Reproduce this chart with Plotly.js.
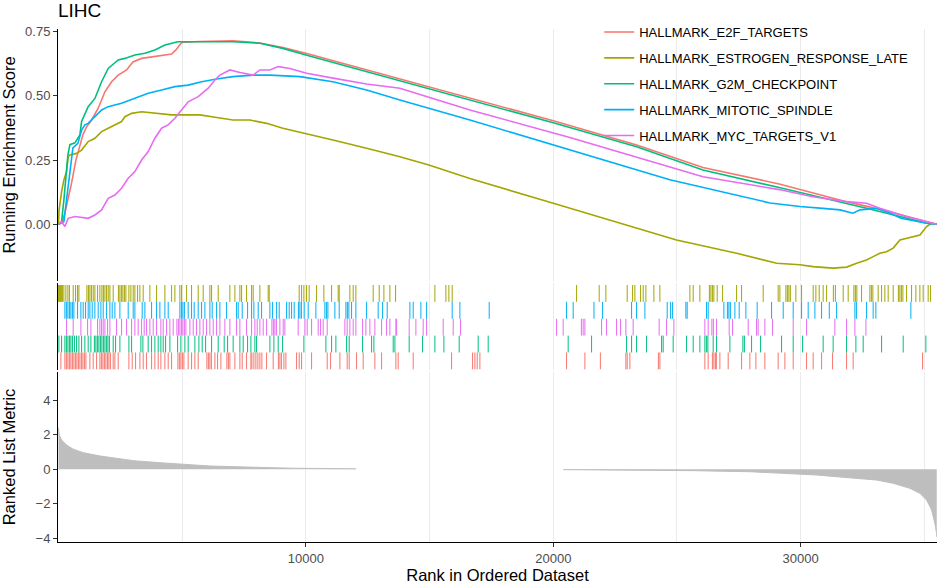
<!DOCTYPE html>
<html>
<head>
<meta charset="utf-8">
<script src="https://cdn.plot.ly/plotly-2.35.2.min.js"></script>
<style>html,body{margin:0;padding:0;background:#fff;}#chart{width:941px;height:584px;}</style>
</head>
<body>
<div id="chart"></div>
<script>
// ---------------- data ----------------
const setNames = ["HALLMARK_E2F_TARGETS","HALLMARK_ESTROGEN_RESPONSE_LATE","HALLMARK_G2M_CHECKPOINT","HALLMARK_MITOTIC_SPINDLE","HALLMARK_MYC_TARGETS_V1"];
const setColors = ["#F8766D","#A3A500","#00BF7D","#00B0F6","#E76BF3"];

// running enrichment score curves (rank, score)
const e2fX = [1,125,259,380,530,703,865,986,1136,1338,1605,1876,2146,2413,2753,3007,3359,3896,4572,4746,4976,5684,7050,8141,9070,10000,16630,20000,23370,26050,29130,31850,33200,34280,35500];
const e2fY = [0,0.005,0.044,0.095,0.161,0.25,0.302,0.348,0.38,0.406,0.452,0.516,0.555,0.581,0.601,0.632,0.646,0.653,0.663,0.679,0.708,0.712,0.715,0.706,0.688,0.666,0.491,0.403,0.309,0.221,0.157,0.088,0.058,0.03,0];

const estX = [1,20,125,218,327,392,461,732,934,1200,1471,1742,2009,2280,2550,2684,2955,3359,3896,4572,5242,5716,6390,7050,7737,8412,9070,10000,11091,12453,13800,14970,16630,20000,24980,27410,29030,29970,30500,31310,31860,32260,32660,32930,33200,33470,33740,34010,34550,34820,35090,35290,35500];
const estY = [0,0.052,0.127,0.173,0.205,0.263,0.27,0.276,0.289,0.322,0.335,0.361,0.374,0.387,0.4,0.419,0.432,0.438,0.432,0.426,0.426,0.426,0.416,0.406,0.406,0.393,0.374,0.354,0.328,0.296,0.263,0.231,0.178,0.082,-0.061,-0.113,-0.152,-0.158,-0.165,-0.171,-0.167,-0.152,-0.139,-0.126,-0.113,-0.107,-0.093,-0.061,-0.048,-0.042,-0.009,0.004,0];

const g2mX = [1,125,218,299,380,461,663,865,934,1200,1471,1742,2009,2413,2684,3088,3492,3896,4300,4826,5684,7050,8141,9070,10000,16630,20000,23370,26050,29130,31850,32660,34010,35090,35500];
const g2mY = [0,0.01,0.095,0.19,0.27,0.31,0.317,0.348,0.40,0.458,0.49,0.555,0.607,0.64,0.646,0.659,0.666,0.679,0.698,0.711,0.711,0.711,0.705,0.685,0.659,0.485,0.395,0.302,0.211,0.143,0.082,0.062,0.03,0.004,0];

const mitX = [1,218,299,461,582,784,934,1067,1200,1471,1742,2009,2550,3088,3626,4167,4705,5242,5784,6390,7050,7858,8545,9757,11091,12453,13800,16630,20670,24710,28760,29970,30900,31590,32110,32400,33070,33610,34050,35090,35500];
const mitY = [0,0.01,0.075,0.204,0.297,0.315,0.367,0.387,0.393,0.419,0.445,0.458,0.471,0.491,0.51,0.523,0.536,0.542,0.555,0.566,0.575,0.581,0.581,0.575,0.555,0.523,0.484,0.406,0.289,0.173,0.083,0.069,0.062,0.056,0.043,0.056,0.062,0.043,0.023,0.004,0];

const mycX = [1,125,259,392,663,934,1200,1471,1742,2009,2280,2550,2817,3088,3359,3626,3896,4167,4434,4705,4976,5242,5647,6051,6322,6524,6928,7332,7870,8141,8545,8880,9353,10030,11100,12453,13800,16630,20670,26050,29130,30490,31850,32660,33200,34280,35340,35500];
const mycY = [0,0.01,-0.009,0.023,0.03,0.026,0.023,0.036,0.056,0.101,0.114,0.14,0.179,0.205,0.25,0.283,0.335,0.374,0.387,0.413,0.445,0.477,0.497,0.53,0.562,0.581,0.601,0.591,0.581,0.601,0.601,0.614,0.607,0.588,0.569,0.546,0.53,0.445,0.338,0.185,0.135,0.107,0.088,0.082,0.062,0.03,0.004,0];

// hit positions (ranks) per gene set
const e2fHits = [97,259,319,380,441,501,562,622,683,744,804,865,926,986,1047,1108,1269,1403,1540,1673,1734,1795,1855,1916,1977,2037,2098,2211,2280,2413,2846,2979,3116,3290,3424,3561,3763,3896,4030,4139,4301,4434,4572,4826,4887,4947,5008,5069,5242,5380,5513,5647,5998,6059,6120,6180,6322,6431,6564,6807,6867,6928,7130,7332,7425,7603,7777,7817,7898,7979,8060,8141,8221,8412,8678,8888,8949,9010,9111,9192,9624,9729,9826,10230,10861,10998,11374,11669,11750,12049,12316,12789,13060,13638,13731,14337,15889,16738,16831,16924,17033,20537,21277,21903,22934,22987,23096,24248,24309,26127,26261,26431,26491,26552,26592,26734,27070,27611,27947,28189,28552,29090,29361,29697,30238,30505,30845,31289,31855,32122,34927];
const estHits = [5,36,77,117,158,218,299,380,441,594,691,772,825,1148,1209,1269,1330,1403,1471,1580,1673,1754,1815,1876,1944,2009,2078,2211,2421,2482,2542,2603,2664,2724,2846,2926,3019,3088,3197,3290,3424,3694,3965,4301,4572,4705,4907,4976,5178,5380,5647,5849,6120,6188,6455,6928,7130,7332,7401,7603,7805,7870,8141,8476,8517,9729,9826,9919,10028,10133,10432,10727,11039,11305,11346,11778,11912,12021,12720,12963,13153,13395,13626,15214,15659,15780,15913,20942,21855,22126,22987,23205,23298,23529,23634,23743,24066,24309,25521,25655,25925,26309,26370,26431,26491,26625,26843,27409,27611,28484,29090,29159,29402,29462,29523,29583,29806,30036,30505,30614,30748,30909,31047,31321,31402,31718,31920,32150,32211,32271,32461,32797,32857,32918,33132,33270,33403,33536,33739,33949,34009,34070,34131,34280,34482,34656,34818,34951,35153,35250];
const g2mHits = [16,125,259,319,380,441,501,562,643,732,825,934,1067,1200,1310,1451,1512,1572,1633,1694,1754,1815,1876,1936,1997,2057,2211,2308,2482,2846,2955,3331,3411,3626,3763,3896,4030,4139,4232,4329,4503,4814,4947,5109,5242,5513,5675,5808,5946,6188,6455,6698,6835,7061,7332,7466,7643,7777,7938,8007,8545,8706,8880,9058,9919,10808,11039,11212,11645,11750,12292,12656,12748,13529,13598,14175,14717,15214,15578,16196,16964,17369,20602,21548,22962,23165,23367,23771,24377,24442,24846,25388,25655,25925,26127,26188,26248,26463,26600,27138,27664,27724,28015,28379,29228,29697,30077,30909,31313,31855,32231,32526,33270,34143,35060];
const mitHits = [259,319,380,441,501,562,622,772,905,998,1095,1200,1269,1362,1471,1605,1714,1807,1944,2078,2171,2280,2482,2817,3019,3088,3383,3492,3763,3965,4098,4301,4434,4907,4968,5028,5089,5242,5380,5485,5647,5784,5918,6120,6213,6390,6524,6795,7199,7264,7425,7643,7805,7898,8072,8209,8545,8654,8816,8921,9220,9325,9422,9527,9697,9757,9818,9931,10093,10404,10768,10829,10889,11172,11346,11617,11677,11738,11847,12021,12453,12922,13100,13286,14204,14337,14648,14879,15913,16225,17409,20537,20804,21645,21993,23165,23367,23703,24604,24742,24823,25359,25412,26196,26261,26896,27037,27098,27158,27340,27514,27785,28241,28824,29293,29697,30036,30303,30574,30845,31156,31452,32191,32252,32664,32930,33039,34454];
const mycHits = [327,594,905,1176,1310,1580,1673,1742,1807,1876,1985,2078,2348,2550,2753,2955,3088,3221,3359,3464,3561,3694,3828,3965,4139,4232,4369,4503,4636,4786,4846,4907,4968,5028,5089,5150,5311,5445,5582,5715,5849,5986,6120,6253,6390,6524,6726,6928,7199,7332,7603,7805,7938,8032,8141,8274,8412,8626,8686,8747,8808,8949,9083,9151,9689,9960,10053,10230,10497,10594,10699,10861,11576,11669,11778,11912,12021,12292,12425,12587,12789,13060,13262,13395,13638,13666,14175,14446,14741,14879,15550,15954,16253,20133,20400,21135,21208,21277,21952,22154,22558,22720,22934,23229,24280,24579,24874,26127,26261,26410,26471,26600,27110,27247,27878,28217,28282,28552,28864,29697,30238,31382,31855,32191,32636];

// ranked list metric (rank, value)
const metricPosX = [1,28,125,327,594,998,1673,2348,3019,4098,4907,6120,7603,9487,11980,12020];
const metricPosY = [2.4,1.98,1.69,1.40,1.16,0.96,0.77,0.64,0.50,0.38,0.29,0.19,0.13,0.06,0.03,0.03];
const metricNegX = [20400,24984,25655,27946,29563,30643,31452,32260,33068,33739,34414,34818,35089,35291,35424,35492,35500];
const metricNegY = [-0.02,-0.04,-0.08,-0.14,-0.23,-0.33,-0.43,-0.52,-0.62,-0.81,-1.10,-1.39,-1.77,-2.35,-3.12,-3.70,-3.9];

// tick labels
const esTicks = [0, 0.25, 0.5, 0.75];
const esTickText = ["0.00","0.25","0.50","0.75"];
const metricTicks = [-4,-2,0,2,4];
const rankTicks = [10000,20000,30000];
const rankTickText = ["10000","20000","30000"];

// ---------------- figure ----------------
const FONT = "Liberation Sans, Arial, Helvetica, sans-serif";
const curves = [[e2fX,e2fY],[estX,estY],[g2mX,g2mY],[mitX,mitY],[mycX,mycY]];
const hitSets = [e2fHits, estHits, g2mHits, mitHits, mycHits];
const rugRow = [0, 4, 1, 3, 2]; // E2F bottom ... ESTROGEN top

const traces = [];
curves.forEach((c, i) => {
  traces.push({
    type: "scatter", mode: "lines", x: c[0], y: c[1],
    xaxis: "x2", yaxis: "y2", name: setNames[i], legendgroup: "g" + i,
    line: {color: setColors[i], width: 1.6}, hoverinfo: "skip"
  });
});
hitSets.forEach((h, i) => {
  const xs = [], ys = [];
  h.forEach(v => { xs.push(v, v, null); ys.push(rugRow[i], rugRow[i] + 1, null); });
  traces.push({
    type: "scatter", mode: "lines", x: xs, y: ys, xaxis: "x3", yaxis: "y3",
    showlegend: false, line: {color: setColors[i], width: 1}, hoverinfo: "skip"
  });
});
[[metricPosX, metricPosY], [metricNegX, metricNegY]].forEach(m => {
  traces.push({
    type: "scatter", mode: "lines", x: m[0], y: m[1], xaxis: "x", yaxis: "y",
    fill: "tozeroy", fillcolor: "#BEBEBE", line: {color: "#BEBEBE", width: 1},
    showlegend: false, hoverinfo: "skip"
  });
});

const xRange = [-20, 35510];
const gridC = "#EBEBEB";
const hiddenX = {
  range: xRange, showticklabels: false, ticks: "", showline: false, zeroline: false,
  showgrid: true, gridcolor: gridC, gridwidth: 1, dtick: 5000, tick0: 0
};
const tickFont = {family: FONT, size: 13, color: "#4D4D4D"};
const titleFont = {family: FONT, size: 16.5, color: "#000"};

const layout = {
  width: 941, height: 584,
  margin: {l: 58, r: 4, t: 29, b: 42},
  paper_bgcolor: "#fff", plot_bgcolor: "#fff",
  font: {family: FONT, color: "#000"},
  title: {text: "LIHC", font: {family: FONT, size: 19, color: "#000"},
          xref: "paper", x: 0, xanchor: "left", yref: "container", y: 0.983, yanchor: "middle"},
  showlegend: true,
  legend: {x: 0.6157, y: 1.0234, xanchor: "left", yanchor: "top", bgcolor: "rgba(0,0,0,0)",
           font: {family: FONT, size: 13, color: "#000"}, tracegroupgap: 6, traceorder: "grouped"},
  xaxis: {
    anchor: "y", domain: [0, 1], range: xRange, tickvals: rankTicks, ticktext: rankTickText,
    ticks: "outside", ticklen: 4, tickcolor: "#333", tickwidth: 1, tickfont: tickFont,
    showline: true, linecolor: "#000", linewidth: 1, zeroline: false,
    showgrid: true, gridcolor: gridC, gridwidth: 1,
    minor: {dtick: 5000, tick0: 0, showgrid: true, gridcolor: gridC, gridwidth: 1, ticks: ""},
    title: {text: "Rank in Ordered Dataset", font: titleFont, standoff: 6}
  },
  xaxis2: Object.assign({anchor: "y2"}, hiddenX),
  xaxis3: Object.assign({anchor: "y3"}, hiddenX),
  yaxis: {
    anchor: "x", domain: [0, 0.3314], range: [-4.2, 5.62], tickvals: metricTicks,
    ticks: "outside", ticklen: 4, tickcolor: "#333", tickfont: tickFont,
    showline: true, linecolor: "#000", linewidth: 1, zeroline: false, showgrid: false,
    title: {text: "Ranked List Metric", font: titleFont, standoff: 25}
  },
  yaxis2: {
    anchor: "x2", domain: [0.5088, 1], range: [-0.221, 0.7605], tickvals: esTicks, ticktext: esTickText,
    ticks: "outside", ticklen: 4, tickcolor: "#333", tickfont: tickFont,
    showline: true, linecolor: "#000", linewidth: 1, zeroline: false, showgrid: false,
    title: {text: "Running Enrichment Score", font: titleFont, standoff: 5}
  },
  yaxis3: {
    anchor: "x3", domain: [0.3353, 0.5049], range: [-0.04, 5.12],
    showticklabels: false, ticks: "", showline: true, linecolor: "#000", linewidth: 1,
    zeroline: false, showgrid: false
  }
};

Plotly.newPlot("chart", traces, layout, {displayModeBar: false, staticPlot: true});
</script>
</body>
</html>
